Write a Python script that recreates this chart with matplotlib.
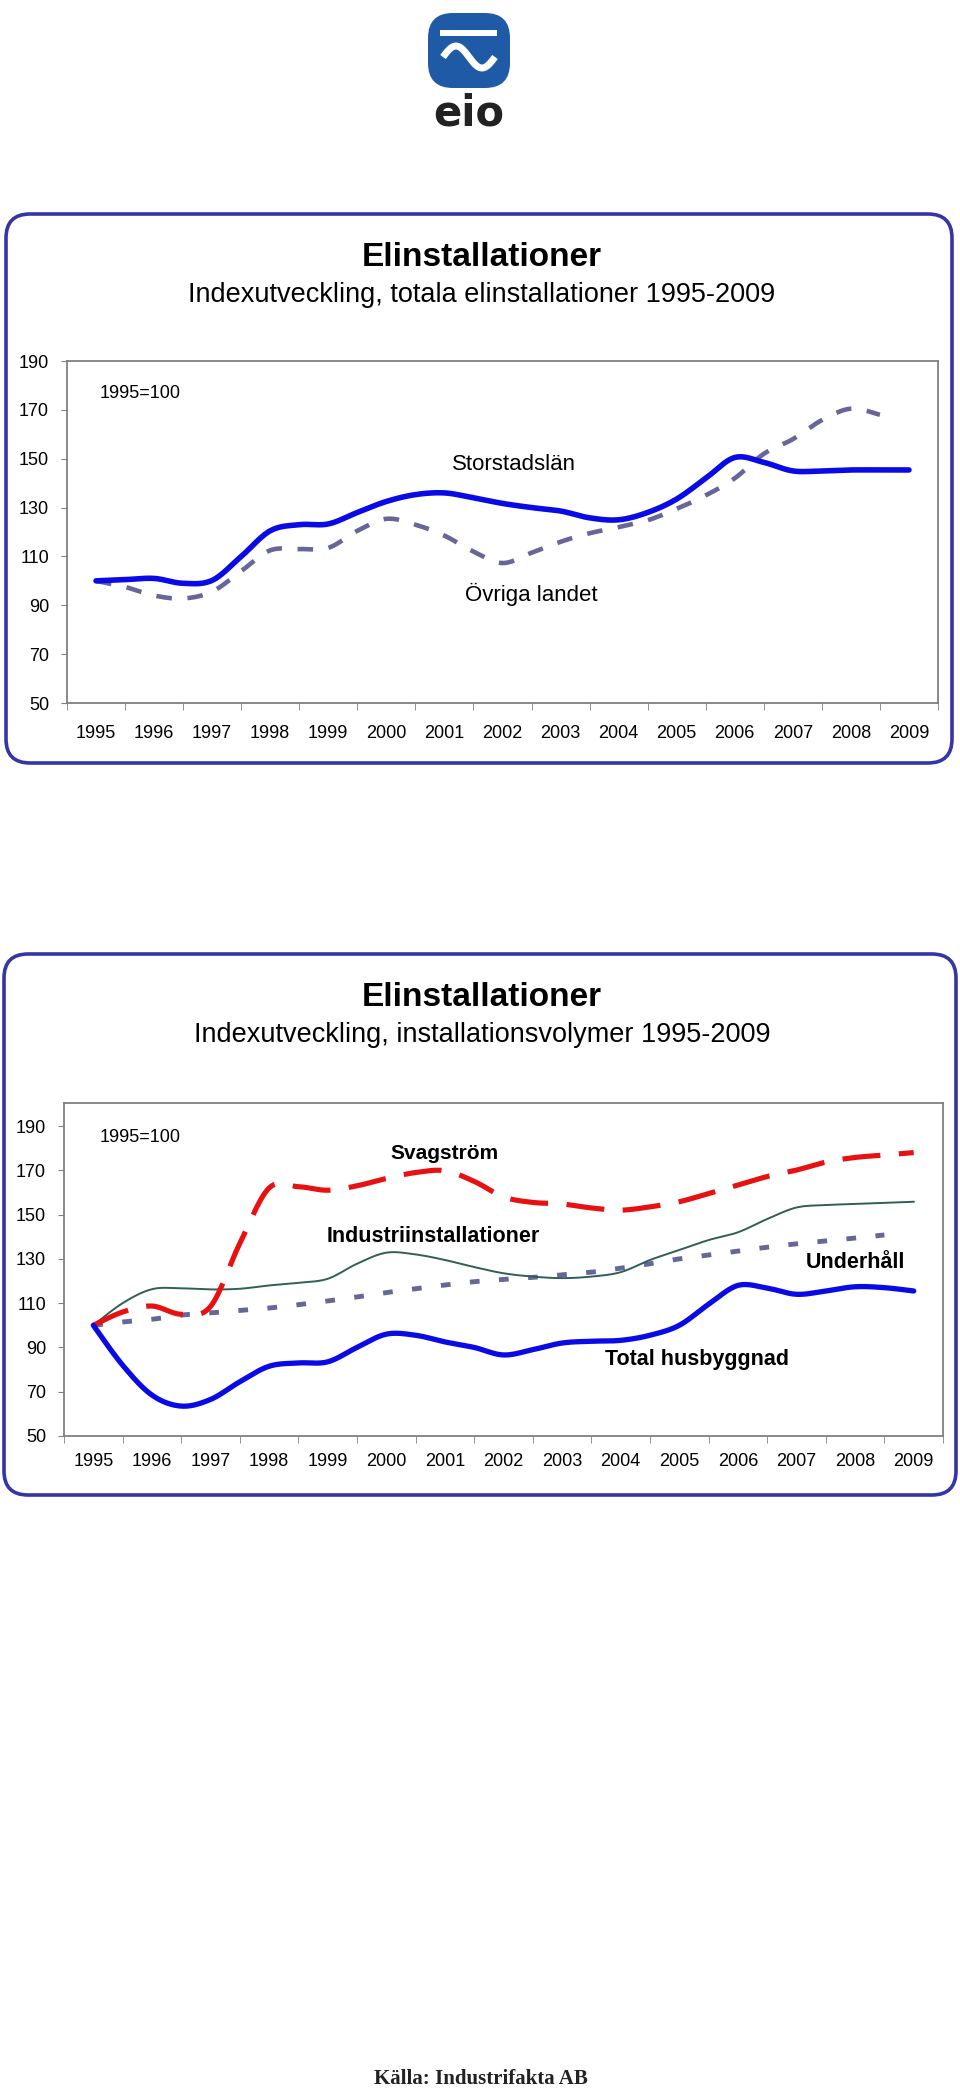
import numpy as np
import matplotlib
matplotlib.use('Agg')
import matplotlib.pyplot as plt
from matplotlib.patches import FancyBboxPatch, Rectangle

plt.rcParams['font.family'] = ['Liberation Sans', 'DejaVu Sans']

# Data, half-year steps from 1995 to 2009
years = ['1995', '1996', '1997', '1998', '1999', '2000', '2001', '2002',
         '2003', '2004', '2005', '2006', '2007', '2008', '2009']
t = np.arange(0, 14.01, 0.5)

# Chart 1: totala elinstallationer
storstad = [100, 100.5, 101, 99.0, 100.2, 110, 120.5, 123, 123.3, 128, 132.5, 135.3, 136,
            134, 131.7, 130, 128.6, 125.8, 125, 128, 133.5, 142, 150.5, 148.5, 145, 145,
            145.4, 145.4, 145.4]
ovriga = [100, 97.5, 94, 92.8, 95.6, 104, 112.5, 113, 113.5, 120.5, 125.4, 123, 118.5,
          112, 107.3, 111.5, 116, 119.5, 122, 124.8, 129.5, 135, 142, 152, 158, 165.8,
          170.5, 168]

# Chart 2: installationsvolymer
husbygg = [100, 82, 68.5, 63.5, 66.5, 74.5, 81.5, 83, 83.5, 90, 96, 95.5, 92.5, 90, 86.6,
           89, 92, 92.8, 93.2, 95.5, 100, 109.5, 118, 116.8, 114, 115.5, 117.4, 117, 115.5]
industri = [100, 110, 116.3, 116.7, 116.2, 116.5, 118, 119.2, 121, 127.8, 132.8, 132,
            129.5, 126.3, 123.5, 122, 121.3, 122, 124, 129.5, 134, 138.5, 142, 148, 153.2,
            154.3, 154.8, 155.3, 155.8]
svagstrom = [100, 106, 108.7, 105, 108.5, 137, 162, 162.6, 161, 163, 166.3, 169, 169.8,
             165, 158, 155.5, 154.8, 153, 152, 153.5, 155.8, 159.5, 163.3, 167.2, 170.1,
             173.7, 175.8, 176.9, 178]
underhall = [100, 101.5, 102.7, 104.6, 105.6, 106.7, 107.8, 109.3, 111, 112.8, 114.8,
             116.5, 118.2, 119.7, 120.7, 121.6, 122.8, 124, 125.8, 127.8, 130, 131.7,
             133.5, 135.3, 136.8, 138.1, 139.4, 140.8]

W, H = 960, 2088
BLUE = '#0a0ae6'
SLATE = '#666699'
RED = '#e81010'
GREEN = '#2f5f55'
FRAME = '#3535a8'


def smooth(x, y, n=16):
    # Catmull-Rom curve through the points, like Excel's smoothed lines
    x = np.asarray(x, float)
    y = np.asarray(y, float)
    xs, ys = [], []
    s = np.linspace(0, 1, n, endpoint=False)
    for i in range(len(x) - 1):
        i0, i3 = max(i - 1, 0), min(i + 2, len(x) - 1)
        for arr, out in ((x, xs), (y, ys)):
            p0, p1, p2, p3 = arr[i0], arr[i], arr[i + 1], arr[i3]
            out.extend(0.5 * (2 * p1 + (-p0 + p2) * s + (2 * p0 - 5 * p1 + 4 * p2 - p3) * s ** 2
                              + (-p0 + 3 * p1 - 3 * p2 + p3) * s ** 3))
    xs.append(x[-1])
    ys.append(y[-1])
    return np.array(xs), np.array(ys)


def px_axes(fig, left, top, right, bottom):
    return fig.add_axes([left / W, 1 - bottom / H, (right - left) / W, (bottom - top) / H])


def style_axes(ax, ymax, xpad):
    ax.set_xlim(-0.5, 14.5)
    ax.set_ylim(50, ymax)
    ax.set_yticks(np.arange(50, 191, 20))
    ax.set_xticks(range(15))
    ax.set_xticklabels(years)
    ax.set_xticks(np.arange(-0.5, 14.6, 1), minor=True)
    ax.tick_params(axis='x', which='major', length=0, pad=xpad, labelsize=13)
    ax.tick_params(axis='x', which='minor', length=5, color='#808080', direction='out')
    ax.tick_params(axis='y', length=4, color='#808080', labelsize=13, pad=9)
    for sp in ax.spines.values():
        sp.set_color('#808080')
        sp.set_linewidth(1.3)


fig = plt.figure(figsize=(W / 100, H / 100), dpi=100)
bg = fig.add_axes([0, 0, 1, 1])
bg.set_xlim(0, W)
bg.set_ylim(H, 0)
bg.axis('off')

# logo
bg.add_patch(FancyBboxPatch((428, 13), 82, 75, boxstyle='round,pad=0,rounding_size=25',
                            fc='#1f5aa6', ec='none'))
bg.add_patch(Rectangle((440, 30), 57, 6, fc='white', ec='none'))
wx = np.linspace(443, 495, 60)
bg.plot(wx, 57 - 11 * np.sin((wx - 443) / 52 * 2 * np.pi), color='white', lw=5,
        solid_capstyle='butt')
bg.text(469, 113, 'eio', ha='center', va='center', fontsize=30, fontweight='heavy',
        color='#222222', family=['DejaVu Sans'])

# frames and titles
for (x0, y0, x1, y1), sub, ty in [((6, 214, 952, 763),
                                   'Indexutveckling, totala elinstallationer 1995-2009', 258),
                                  ((4, 954, 956, 1495),
                                   'Indexutveckling, installationsvolymer 1995-2009', 998)]:
    bg.add_patch(FancyBboxPatch((x0, y0), x1 - x0, y1 - y0,
                                boxstyle='round,pad=0,rounding_size=24',
                                fc='white', ec=FRAME, lw=2.6))
    bg.text(482, ty, 'Elinstallationer', ha='center', va='center', fontsize=24,
            fontweight='bold')
    bg.text(482, ty + 37, sub, ha='center', va='center', fontsize=19.5)

bg.text(481, 2079, 'Källa: Industrifakta AB', ha='center', va='center', fontsize=15,
        fontweight='bold', family=['Liberation Serif', 'DejaVu Serif'], color='#222222')

# chart 1
ax1 = px_axes(fig, 67, 361, 938, 703)
style_axes(ax1, 190, 16)
xs, ys = smooth(t[:len(ovriga)], ovriga)
ax1.plot(xs, ys, color=SLATE, lw=3.3, linestyle=(0, (3.4, 3.4)), dash_capstyle='butt')
xs, ys = smooth(t, storstad)
ax1.plot(xs, ys, color=BLUE, lw=4.0, solid_capstyle='round')
ax1.text(0.07, 176.5, '1995=100', fontsize=13, va='center')
ax1.text(7.2, 147.5, 'Storstadslän', fontsize=16, ha='center', va='center')
ax1.text(7.5, 94.5, 'Övriga landet', fontsize=16, ha='center', va='center')

# chart 2
ax2 = px_axes(fig, 64, 1103, 943, 1436)
style_axes(ax2, 200.4, 12)
xs, ys = smooth(t[:len(underhall)], underhall)
ax2.plot(xs, ys, color=SLATE, lw=3.5, linestyle=(0, (2.0, 4.0)), dash_capstyle='butt')
xs, ys = smooth(t, industri)
ax2.plot(xs, ys, color=GREEN, lw=1.4)
xs, ys = smooth(t, svagstrom)
ax2.plot(xs, ys, color=RED, lw=3.7, linestyle=(0, (7.4, 3.6)), dash_capstyle='butt')
xs, ys = smooth(t, husbygg)
ax2.plot(xs, ys, color=BLUE, lw=3.8, solid_capstyle='round')
ax2.text(0.1, 185, '1995=100', fontsize=13, va='center')
ax2.text(6.0, 177.5, 'Svagström', fontsize=15, fontweight='bold', ha='center', va='center')
ax2.text(5.8, 140.3, 'Industriinstallationer', fontsize=15.5, fontweight='bold',
         ha='center', va='center')
ax2.text(13.0, 128.5, 'Underhåll', fontsize=15.5, fontweight='bold', ha='center',
         va='center')
ax2.text(10.3, 84.5, 'Total husbyggnad', fontsize=15.5, fontweight='bold', ha='center',
         va='center')

fig.savefig('out.png', dpi=100)
